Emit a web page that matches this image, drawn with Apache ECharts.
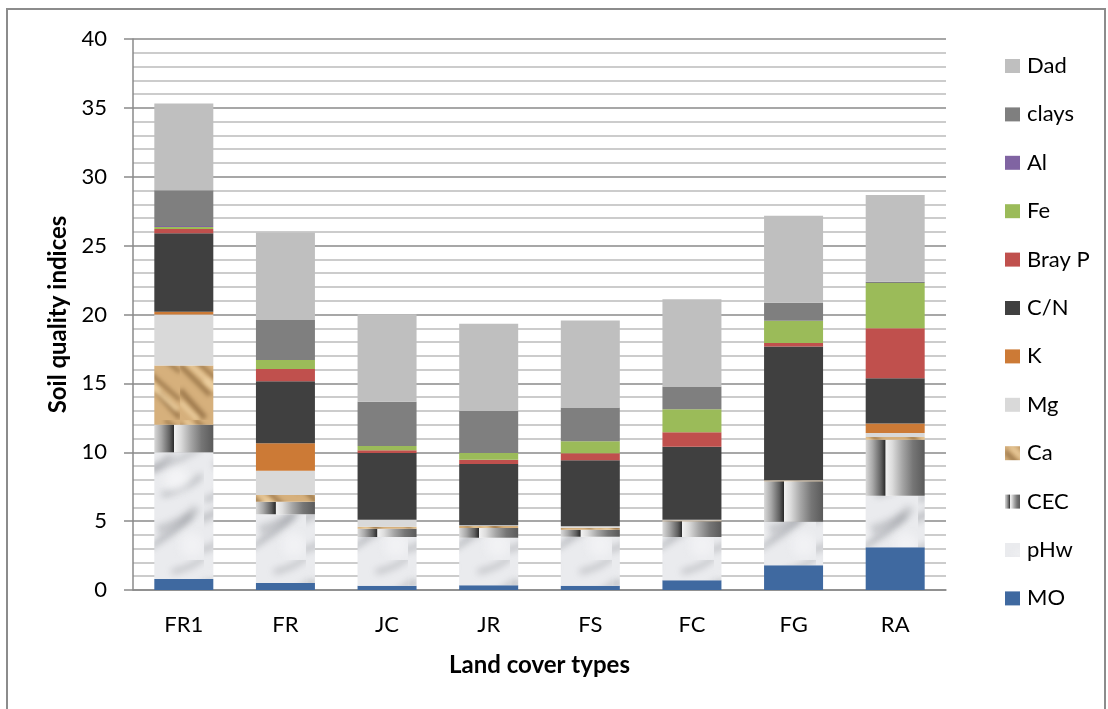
<!DOCTYPE html>
<html>
<head>
<meta charset="utf-8">
<script src="https://cdn.jsdelivr.net/npm/echarts@6/dist/echarts.min.js"></script>
<style>
html,body{margin:0;padding:0;background:#fff;}
#c{width:1108px;height:709px;}
</style>
</head>
<body>
<div id="c"></div>
<script>
const categories = ['FR1','FR','JC','JR','FS','FC','FG','RA'];
const MO    = [0.8, 0.5, 0.3, 0.35, 0.3, 0.7, 1.8, 3.1];
const pHw   = [9.2, 5.0, 3.55, 3.45, 3.57, 3.15, 3.15, 3.75];
const CEC   = [2.0, 0.9, 0.6, 0.7, 0.5, 1.15, 2.95, 4.05];
const Ca    = [4.3, 0.5, 0.15, 0.15, 0.15, 0.05, 0.05, 0.2];
const Mg    = [3.7, 1.75, 0.5, 0.05, 0.1, 0.05, 0.02, 0.3];
const K     = [0.2, 2.0, 0, 0, 0, 0, 0, 0.68];
const CN    = [5.7, 4.5, 4.85, 4.45, 4.8, 5.3, 9.7, 3.3];
const BrayP = [0.3, 0.9, 0.2, 0.3, 0.5, 1.05, 0.27, 3.63];
const Fe    = [0.15, 0.65, 0.3, 0.5, 0.87, 1.67, 1.6, 3.27];
const Al    = [0.07, 0, 0, 0, 0, 0, 0, 0];
const clays = [2.6, 2.9, 3.22, 3.05, 2.46, 1.66, 1.31, 0.1];
const Dad   = [6.3, 6.35, 6.35, 6.32, 6.32, 6.33, 6.31, 6.3];
const yTicks = [0,5,10,15,20,25,30,35,40];

// marble texture (soft cloudy streaks)
function marble(){
  const W=102, H=140;
  const c=document.createElement('canvas'); c.width=W; c.height=H;
  const g=c.getContext('2d');
  g.fillStyle='#eaebee'; g.fillRect(0,0,W,H);
  g.filter='blur(3.5px)';
  const s=[[0,25,45,5,6,0.45],[15,65,70,35,4,0.5],[-5,100,40,72,7,0.35],[30,135,90,95,5,0.45],[50,50,108,20,4,0.4],
           [0,80,25,64,4,0.45],[55,110,95,88,8,0.3],[10,45,28,34,6,0.4],[60,75,100,55,4,0.45],[-5,130,18,118,5,0.35],[70,12,105,-6,4,0.4]];
  s.forEach(a=>{g.strokeStyle='rgba(105,108,116,'+a[5]+')';g.lineWidth=a[4];g.beginPath();g.moveTo(a[0],a[1]);
    g.quadraticCurveTo((a[0]+a[2])/2+6,(a[1]+a[3])/2+4,a[2],a[3]);g.stroke();});
  g.filter='blur(5px)';
  [[20,20,0.6],[75,60,0.6],[40,115,0.6],[90,125,0.5]].forEach(b=>{g.fillStyle='rgba(250,250,252,'+b[2]+')';g.beginPath();g.arc(b[0],b[1],12,0,Math.PI*2);g.fill();});
  g.filter='none';
  return c;
}
// sand texture
function sand(){
  const c=document.createElement('canvas'); c.width=60; c.height=60;
  const g=c.getContext('2d');
  g.fillStyle='#d6b07c'; g.fillRect(0,0,60,60);
  g.filter='blur(2px)';
  const d=[[0,5,30,35,5],[15,0,60,40,4],[0,30,25,58,6],[35,30,60,58,5],[45,0,60,12,4]];
  d.forEach(a=>{g.strokeStyle='rgba(115,80,40,0.55)';g.lineWidth=a[4];g.beginPath();g.moveTo(a[0],a[1]);g.lineTo(a[2],a[3]);g.stroke();});
  const l=[[5,0,40,32,4],[0,42,18,60,4],[25,20,58,50,5]];
  l.forEach(a=>{g.strokeStyle='rgba(240,212,165,0.8)';g.lineWidth=a[4];g.beginPath();g.moveTo(a[0],a[1]);g.lineTo(a[2],a[3]);g.stroke();});
  g.filter='none';
  return c;
}
const cecGrad = new echarts.graphic.LinearGradient(0,0,1,0,[
  {offset:0,color:'#d8d8d8'},{offset:0.12,color:'#a8a8a8'},{offset:0.26,color:'#606060'},
  {offset:0.33,color:'#2c2c2c'},{offset:0.34,color:'#f2f2f2'},{offset:0.45,color:'#dcdcdc'},
  {offset:0.62,color:'#a6a6a6'},{offset:0.8,color:'#767676'},{offset:1,color:'#5a5a5a'}]);

const seriesDefs = [
  ['MO', MO, '#3f69a0'],
  ['pHw', pHw, {image: marble(), repeat:'repeat'}],
  ['CEC', CEC, cecGrad],
  ['Ca', Ca, {image: sand(), repeat:'repeat'}],
  ['Mg', Mg, '#d9d9d9'],
  ['K', K, '#cc7a36'],
  ['C/N', CN, '#404040'],
  ['Bray P', BrayP, '#c0504d'],
  ['Fe', Fe, '#9bbb59'],
  ['Al', Al, '#8064a2'],
  ['clays', clays, '#7f7f7f'],
  ['Dad', Dad, '#bfbfbf']
];

const chart = echarts.init(document.getElementById('c'));
chart.setOption({
  animation:false,
  backgroundColor:'#fff',
  textStyle:{fontFamily:'Lato'},
  graphic:[{type:'rect',shape:{x:7,y:9,width:1098,height:720},style:{fill:'none',stroke:'#8c8c8c',lineWidth:2},silent:true}],
  grid:{left:133,right:162,top:39,bottom:119,containLabel:false},
  legend:{
    orient:'vertical', left:1005, top:55, padding:0,
    itemWidth:15, itemHeight:14, itemGap:26.4, icon:'rect',
    textStyle:{fontSize:22, color:'#000', lineHeight:22, fontFamily:'Lato', padding:[0,0,0,2]},
    data:seriesDefs.map(s=>s[0]).slice().reverse()
  },
  xAxis:{
    type:'category', data:categories,
    name:'Land cover types', nameLocation:'middle', nameGap:63,
    nameTextStyle:{fontSize:24, fontWeight:'bold', color:'#000', fontFamily:'Lato'},
    axisLine:{lineStyle:{color:'#8a8a8a', width:1.5}},
    axisTick:{show:false},
    axisLabel:{fontSize:22, color:'#000', margin:24, fontFamily:'Lato'}
  },
  yAxis:{
    type:'value', min:0, max:40, interval:5,
    name:'Soil quality indices', nameLocation:'middle', nameGap:63,
    nameTextStyle:{fontSize:24, fontWeight:'bold', color:'#000', fontFamily:'Lato'},
    axisLine:{show:true, lineStyle:{color:'#8a8a8a', width:1.5}},
    axisTick:{show:true, length:9, lineStyle:{color:'#8a8a8a', width:1.5}},
    axisLabel:{fontSize:22, color:'#000', margin:26, fontFamily:'Lato',
      formatter:v=>yTicks.indexOf(v)>=0?String(v):''},
    splitLine:{show:true, lineStyle:{color:'#8a8a8a', width:1.5}},
    minorTick:{show:false, splitNumber:5},
    minorSplitLine:{show:true, lineStyle:{color:'#bcbcbc', width:1.5}}
  },
  series: seriesDefs.map(s=>({
    name:s[0], type:'bar', stack:'total', barWidth:59, data:s[1],
    itemStyle:{color:s[2]}, emphasis:{disabled:true}
  }))
});
</script>
</body>
</html>
